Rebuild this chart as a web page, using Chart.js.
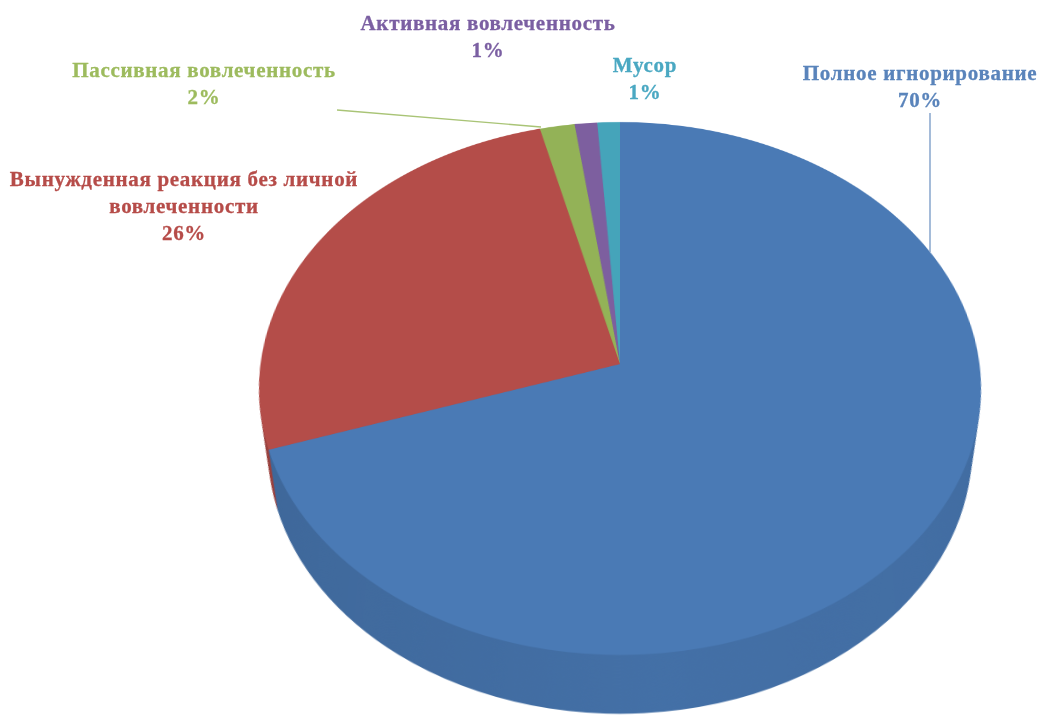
<!DOCTYPE html>
<html lang="ru">
<head>
<meta charset="utf-8">
<script src="https://cdn.jsdelivr.net/npm/chart.js@4"></script>
<style>
    html, body { margin: 0; width: 1040px; height: 715px; overflow: hidden; background: #fff; }
    #stage { position: relative; width: 1040px; height: 715px; overflow: hidden; }
    /* the pie lies flat on the canvas, the tilt gives the 3D look; centre lands on 620,364 */
    #pieWrap {
        position: absolute; left: 120px; top: -136px; width: 1000px; height: 1000px;
        transform-origin: 500px 500px;
        transform: perspective(2652px) rotateX(42.7deg);
    }
    #leaders { position: absolute; left: 0; top: 0; }
    .lbl {
        position: absolute; transform: translateX(-50%); text-align: center; white-space: pre;
        font: bold 21px/27px "Liberation Serif", serif; letter-spacing: 0.7px;
        -webkit-text-stroke: 0.3px currentColor;
    }
</style>
</head>
<body>
<div id="stage">
    <div id="pieWrap"><canvas id="pie" width="1000" height="1000"></canvas></div>
    <svg id="leaders" width="1040" height="715">
        <line x1="337" y1="110" x2="541" y2="127" stroke="#a9c476" stroke-width="1.4"/>
        <line x1="930" y1="113" x2="930" y2="252" stroke="#7f9fc9" stroke-width="1.4"/>
    </svg>
</div>
<script>
const categories = [
    "Полное игнорирование",
    "Вынужденная реакция без личной\nвовлеченности",
    "Пассивная вовлеченность",
    "Активная вовлеченность",
    "Мусор",
];
const shares = [69.9, 26.2, 1.7, 1.1, 1.1];
const sliceColors = ["#4a7ab5", "#b44d49", "#93b257", "#7d5f9f", "#45a4ba"];
const labelColors = ["#5a84bb", "#b64c49", "#9dbb5e", "#7b5fa2", "#4aa8c2"];
const labelSpots = [[920, 60], [184, 166], [204, 57], [488, 10], [645, 52]];

const WALL_DEPTH = 81;
const WALL_SHRINK = 0.045;

// draws the slices again, deepest first, to build the side of the pie
const pieWall = {
    id: "pieWall",
    beforeDatasetsDraw(chart) {
        const ctx = chart.ctx;
        const arcs = chart.getDatasetMeta(0).data;
        const cx = arcs[0].x, cy = arcs[0].y;
        for (let t = WALL_DEPTH; t > 0; t -= 1) {
            const s = 1 - WALL_SHRINK * t / WALL_DEPTH;
            ctx.save();
            ctx.translate(cx, cy + t);
            ctx.scale(s, s);
            ctx.translate(-cx, -cy);
            arcs.forEach((a) => a.draw(ctx));
            ctx.restore();
        }
        // darken only what has been painted so far
        const shade = ctx.createLinearGradient(cx - 360, 0, cx + 360, 0);
        shade.addColorStop(0, "rgba(0,0,0,0.15)");
        shade.addColorStop(0.55, "rgba(0,0,0,0.08)");
        shade.addColorStop(1, "rgba(0,0,0,0.1)");
        ctx.save();
        ctx.globalCompositeOperation = "source-atop";
        ctx.fillStyle = shade;
        ctx.fillRect(0, 0, chart.width, chart.height);
        ctx.restore();
    },
};

new Chart(document.getElementById("pie"), {
    type: "pie",
    data: {
        labels: categories,
        datasets: [{ data: shares, backgroundColor: sliceColors, borderWidth: 0 }],
    },
    options: {
        responsive: false,
        animation: false,
        devicePixelRatio: 2,
        layout: { padding: 140.5 },
        plugins: { legend: { display: false }, tooltip: { enabled: false } },
    },
    plugins: [pieWall],
});

const stage = document.getElementById("stage");
categories.forEach((name, i) => {
    const div = document.createElement("div");
    div.className = "lbl";
    div.textContent = name + "\n" + Math.round(shares[i]) + "%";
    div.style.left = labelSpots[i][0] + "px";
    div.style.top = labelSpots[i][1] + "px";
    div.style.color = labelColors[i];
    stage.appendChild(div);
});
</script>
</body>
</html>
